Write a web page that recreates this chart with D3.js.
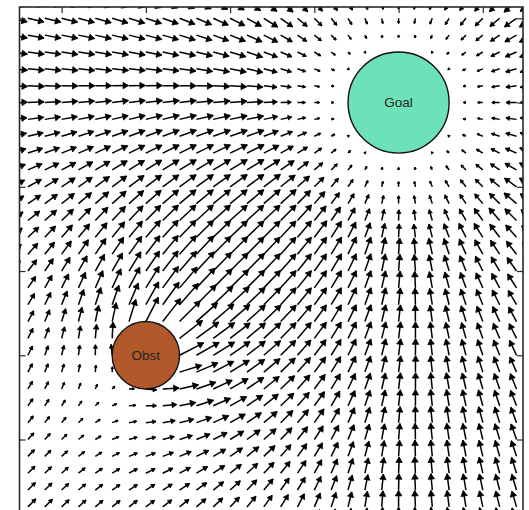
<!DOCTYPE html>
<html>
<head>
<meta charset="utf-8">
<script src="https://cdn.jsdelivr.net/npm/d3@7"></script>
<style>
  html, body { margin: 0; padding: 0; background: #ffffff; }
  svg { display: block; }
</style>
</head>
<body>
<script>
// ---------- values ----------
const goalCenter      = [4, 4];
const goalRadius      = [0.6];
const goalSpread      = [1.25];
const obstacleCenter  = [1, 1];
const obstacleRadius  = [0.4];
const obstacleSpread  = [3.08];
const repulsionGain   = [0.264];
const gridXRange      = [-1.0, 5.6];
const gridYRange      = [-1.2, 5.4];
const gridStep        = [0.2];
const xTicks          = [0, 1, 2, 3, 4, 5];
const yTicks          = [0, 1, 2, 3, 4, 5];
const circleLabels    = ["Goal", "Obst"];

// ---------- layout ----------
const W = 529, H = 510;
const frame = { left: 19.5, top: 7, right: 523, bottom: 523.75 };

const svg = d3.select("body").append("svg")
  .attr("width", W).attr("height", H);

const x = d3.scaleLinear().domain([-0.5, 5.477]).range([frame.left, frame.right]);
const y = d3.scaleLinear().domain([-1, 5.134]).range([frame.bottom, frame.top]);

svg.append("defs").append("clipPath").attr("id", "plotclip")
  .append("rect")
  .attr("x", frame.left).attr("y", frame.top)
  .attr("width", frame.right - frame.left).attr("height", frame.bottom - frame.top);

// ---------- field (attractive goal + repulsive obstacle) ----------
const [gx, gy] = goalCenter, rg = goalRadius[0], sg = goalSpread[0];
const [ox, oy] = obstacleCenter, ro = obstacleRadius[0], so = obstacleSpread[0];
const beta = repulsionGain[0];
const arrowUnit = 0.195;   // drawn length (data units) of a saturated goal pull

function field(px, py) {
  const dxg = gx - px, dyg = gy - py, dg = Math.hypot(dxg, dyg);
  if (dg < rg - 1e-6) return null;
  const dxo = px - ox, dyo = py - oy, dob = Math.hypot(dxo, dyo);
  if (dob < ro - 1e-6) return null;
  let vx = 0, vy = 0;
  if (dg > rg) {
    const m = Math.min(dg - rg, sg) / sg;
    vx += m * dxg / dg; vy += m * dyg / dg;
  }
  if (dob <= ro + so) {
    const m = beta * (ro + so - dob);
    vx += m * dxo / dob; vy += m * dyo / dob;
  }
  return [vx, vy];
}

const step = gridStep[0];
const nx = Math.round((gridXRange[1] - gridXRange[0]) / step);
const ny = Math.round((gridYRange[1] - gridYRange[0]) / step);
const arrows = [];
for (let i = 0; i <= nx; i++) {
  for (let j = 0; j <= ny; j++) {
    const px = +(gridXRange[0] + i * step).toFixed(4);
    const py = +(gridYRange[0] + j * step).toFixed(4);
    const v = field(px, py);
    if (!v) continue;
    const x0 = x(px), y0 = y(py);
    const x1 = x(px + v[0] * arrowUnit), y1 = y(py + v[1] * arrowUnit);
    const len = Math.hypot(x1 - x0, y1 - y0);
    if (len < 0.6) continue;
    arrows.push({ x0, y0, x1, y1, len });
  }
}

const g = svg.append("g").attr("clip-path", "url(#plotclip)");

g.selectAll("line.shaft").data(arrows).join("line")
  .attr("class", "shaft")
  .attr("x1", d => d.x0).attr("y1", d => d.y0)
  .attr("x2", d => d.x1).attr("y2", d => d.y1)
  .attr("stroke", "#000").attr("stroke-width", 1.5)
  .attr("stroke-linecap", "butt");

g.selectAll("path.head").data(arrows).join("path")
  .attr("class", "head")
  .attr("d", d => {
    const ux = (d.x1 - d.x0) / d.len, uy = (d.y1 - d.y0) / d.len;
    const hl = Math.max(2, Math.min(5.5, d.len * 0.33));
    const hw = hl * 0.6;
    const bx = d.x1 - ux * hl, by = d.y1 - uy * hl;
    return `M${d.x1},${d.y1}L${bx - uy * hw},${by + ux * hw}L${bx + uy * hw},${by - ux * hw}Z`;
  })
  .attr("fill", "#000").attr("stroke", "#000").attr("stroke-width", 0.8)
  .attr("stroke-linejoin", "round");

// ---------- circles ----------
const circles = [
  { c: goalCenter, r: goalRadius[0], fill: "#6de2b8", label: circleLabels[0] },
  { c: obstacleCenter, r: obstacleRadius[0], fill: "#b1592b", label: circleLabels[1] }
];
const pxPerUnit = x(1) - x(0);
const cg = svg.append("g");
cg.selectAll("circle").data(circles).join("circle")
  .attr("cx", d => x(d.c[0])).attr("cy", d => y(d.c[1]))
  .attr("r", d => d.r * pxPerUnit)
  .attr("fill", d => d.fill)
  .attr("stroke", "#111").attr("stroke-width", 1.4);
cg.selectAll("text").data(circles).join("text")
  .attr("x", d => x(d.c[0])).attr("y", d => y(d.c[1]))
  .attr("text-anchor", "middle").attr("dominant-baseline", "central")
  .attr("font-family", "'Liberation Sans', Arial, Helvetica, sans-serif")
  .attr("font-size", 13.5)
  .attr("fill", "#262626")
  .text(d => d.label);

// ---------- frame and inward ticks ----------
svg.append("rect")
  .attr("x", frame.left).attr("y", frame.top)
  .attr("width", frame.right - frame.left).attr("height", frame.bottom - frame.top)
  .attr("fill", "none").attr("stroke", "#2a2a2a").attr("stroke-width", 1.6);

function styleAxis(sel) {
  sel.select(".domain").remove();
  sel.selectAll(".tick line").attr("stroke", "#2a2a2a").attr("stroke-width", 1.2);
  sel.selectAll(".tick text").remove();
}
svg.append("g").attr("transform", `translate(0,${frame.top})`)
  .call(d3.axisTop(x).tickValues(xTicks).tickSize(-6).tickFormat("")).call(styleAxis);
svg.append("g").attr("transform", `translate(0,${frame.bottom})`)
  .call(d3.axisBottom(x).tickValues(xTicks).tickSize(-6).tickFormat("")).call(styleAxis);
svg.append("g").attr("transform", `translate(${frame.left},0)`)
  .call(d3.axisLeft(y).tickValues(yTicks).tickSize(-6).tickFormat("")).call(styleAxis);
svg.append("g").attr("transform", `translate(${frame.right},0)`)
  .call(d3.axisRight(y).tickValues(yTicks).tickSize(-6).tickFormat("")).call(styleAxis);
</script>
</body>
</html>
